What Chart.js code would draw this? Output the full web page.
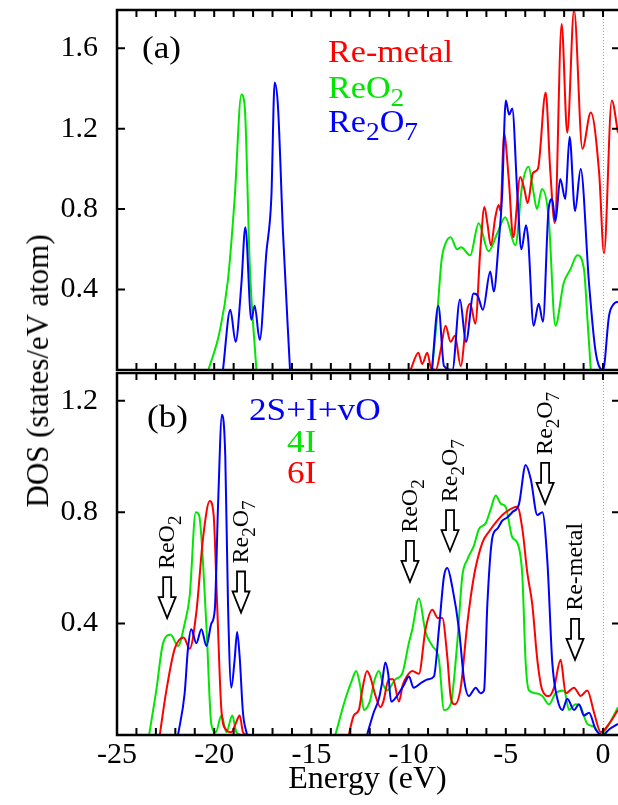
<!DOCTYPE html>
<html><head><meta charset="utf-8">
<script src="https://cdn.jsdelivr.net/npm/chart.js@4.4.0/dist/chart.umd.min.js"></script>
<style>
html,body{margin:0;padding:0;background:#fff;}
#wrap{position:relative;width:618px;height:805px;overflow:hidden;background:#fff;}
#ca{position:absolute;left:0;top:0;}
#cb{position:absolute;left:0;top:372px;}
#ytitle{position:absolute;left:38px;top:371px;transform:translate(-50%,-50%) rotate(-90deg);font:31px 'Liberation Serif','Times New Roman',serif;white-space:nowrap;color:#000;}
</style></head><body>
<div id="wrap">
<canvas id="ca" width="618" height="372"></canvas>
<canvas id="cb" width="618" height="433"></canvas>
<div id="ytitle">DOS (states/eV atom)</div>
</div>
<script>
// ---------- axis ranges & tick labels ----------
const ENERGY_MIN = -25, ENERGY_MAX = 0.77;
const xLabelValues = [-25, -20, -15, -10, -5, 0];
const yLabelValuesA = [0.4, 0.8, 1.2, 1.6];
const yLabelValuesB = [0.4, 0.8, 1.2];
const yMaxA = 1.79, yMaxB = 1.30;

// ---------- panel (a) series ----------
const namesA = ['Re-metal', 'ReO_2', 'Re_2O_7'];
const aRedE = [-9.9,-9.5,-9.3,-9.04,-8.85,-8.6,-8.35,-8.1,-7.84,-7.62,-7.32,-6.98,-6.83,-6.57,-6.31,-6.1,-5.95,-5.77,-5.54,-5.37,-5.27,-5.1,-4.85,-4.62,-4.26,-4.05,-3.88,-3.6,-3.35,-2.95,-2.72,-2.48,-2.13,-1.84,-1.49,-1.06,-0.63,-0.2,0.05,0.45,0.77];
const aRedV = [0,0.086,0.03,0.086,0.01,0,0.1,0.22,0.14,0.17,0.02,0.30,0.33,0.23,0.60,0.81,0.73,0.62,0.76,0.82,0.79,1.18,0.95,0.66,0.96,0.90,0.83,0.98,1.0,1.38,1.0,0.73,1.72,1.18,1.79,1.10,1.28,0.98,0.58,1.34,1.18];
const aGreenE = [-20.3,-19.72,-19.29,-18.95,-18.6,-18.43,-18.17,-17.83,null,-8.8,-8.55,-8.3,-8.1,-7.84,-7.5,-7.3,-6.83,-6.4,-5.89,-5.44,-5.03,-4.51,-4.17,-3.83,-3.57,-3.4,-3.14,-2.8,-2.45,-2.03,-1.68,-1.32,-0.98,-0.8,-0.63];
const aGreenV = [0,0.19,0.45,0.85,1.37,1.31,0.52,0,null,0,0.25,0.55,0.63,0.66,0.60,0.61,0.57,0.73,0.59,0.68,0.76,0.62,0.91,1.01,0.88,0.80,0.90,0.76,0.22,0.43,0.50,0.57,0.50,0.25,0];
const aBlueE = [-19.55,-19.17,-18.9,-18.6,-18.4,-18.09,-17.92,-17.66,-17.32,-17.06,-16.89,-16.72,-16.46,-16.1,null,-8.8,-8.47,-8.18,-7.75,-7.36,-7.05,-6.66,-6.45,-6.18,-5.8,-5.62,-5.37,-5.2,-5.0,-4.83,-4.67,-4.41,-4.2,-3.96,-3.85,-3.57,-3.31,-3.09,-2.8,-2.62,-2.45,-2.2,-1.94,-1.72,-1.44,-1.15,-0.72,-0.38,0,0.31,0.57,0.77];
const aBlueV = [0,0.30,0.14,0.43,0.71,0.25,0.32,0.15,0.58,0.86,1.43,1.31,0.68,0,null,0,0.32,0.02,0,0.35,0.14,0.38,0.37,0.30,0.49,0.39,0.63,0.85,1.34,1.27,1.30,0.88,0.60,0.72,0.65,0.22,0.33,0.24,0.80,0.85,0.74,0.95,0.85,1.16,0.79,1.0,0.43,0.09,0,0.27,0.33,0.34];

// ---------- panel (b) series ----------
const namesB = ['2S+I+vO', '4I', '6I'];
const bBlueE = [-21.86,-21.52,-21.35,-21.18,-20.92,-20.66,-20.4,-20.15,-19.97,-19.8,-19.6,-19.43,-19.29,-19.12,-18.95,-18.82,-18.69,-18.52,-18.31,null,-12.14,-11.8,-11.53,-11.36,-11.2,-11.05,-10.9,-10.6,-10.24,-9.98,-9.75,-9.3,-9.0,-8.7,-8.44,-8.18,-8.01,-7.75,-7.41,-7.15,-6.9,-6.55,-6.3,-6.12,-5.95,-5.69,-5.44,-5.18,-4.95,-4.67,-4.32,-3.98,-3.72,-3.38,-3.12,-2.86,-2.61,-2.35,-2.09,-1.84,-1.49,-1.24,-0.98,-0.72,-0.38,0,0.31,0.77];
const bBlueV = [0,0.15,0.31,0.38,0.33,0.38,0.32,0.40,0.45,0.83,1.15,1.00,0.47,0.17,0.27,0.37,0.28,0.08,0,null,0,0.08,0.13,0.19,0.26,0.22,0.12,0.14,0.18,0.21,0.17,0.19,0.20,0.21,0.38,0.57,0.60,0.53,0.38,0.20,0.14,0.17,0.15,0.16,0.47,0.71,0.74,0.77,0.78,0.80,0.83,0.97,0.92,0.79,0.80,0.62,0.26,0.13,0.09,0.13,0.09,0.11,0.07,0.08,0.02,0,0.02,0.04];
const bGreenE = [-23.35,-22.98,-22.63,-22.24,-21.86,-21.52,-21.26,-20.95,-20.78,-20.4,-20.15,-19.92,-19.63,-19.37,-19.07,-18.86,-18.6,null,-13.77,-13.25,-12.9,-12.7,-12.5,-12.3,-12.0,-11.74,-11.53,-11.3,-11.1,-10.68,-10.33,-9.99,-9.81,-9.47,-9.13,-8.78,-8.44,-8.18,-7.84,-7.5,-7.24,-6.98,-6.64,-6.38,-6.04,-5.78,-5.52,-5.25,-5.01,-4.67,-4.41,-4.15,-3.98,-3.81,-3.45,-3.12,-2.78,-2.44,-2.0,-1.75,-1.41,-1.15,-0.81,-0.46,-0.12,0.31,0.77];
const bGreenV = [0,0.16,0.33,0.36,0.32,0.40,0.50,0.80,0.79,0.39,0.04,0.01,0.07,0.01,0.07,0.01,0,null,0,0.13,0.20,0.23,0.18,0.09,0.12,0.20,0.23,0.18,0.16,0.20,0.22,0.33,0.38,0.49,0.37,0.32,0.27,0.09,0.11,0.33,0.57,0.63,0.68,0.74,0.76,0.81,0.86,0.83,0.82,0.71,0.69,0.57,0.26,0.16,0.15,0.14,0.11,0.15,0.16,0.09,0.11,0.10,0.04,0.03,0,0.04,0.10];
const bRedE = [-22.8,-22.46,-22.03,-21.57,-21.26,-20.92,-20.57,-20.23,-20.03,-19.85,-19.63,-19.4,-19.12,-18.9,-18.69,-18.52,-18.35,null,-13.08,-12.82,-12.56,-12.39,-12.14,-11.98,-11.7,-11.45,-11.3,-11.02,-10.8,-10.5,-10.3,-10.1,-9.81,-9.47,-9.13,-8.78,-8.5,-8.27,-8.01,-7.84,-7.62,-7.32,-6.98,-6.64,-6.21,-5.87,-5.44,-5.01,-4.41,-4.15,-3.89,-3.64,-3.38,-3.12,-2.78,-2.52,-2.18,-1.92,-1.49,-1.15,-0.81,-0.46,-0.12,0.31,0.77];
const bRedV = [0,0.16,0.31,0.35,0.31,0.44,0.71,0.84,0.79,0.47,0.09,0.02,0.01,0.04,0.07,0.01,0,null,0,0.07,0.09,0.16,0.23,0.21,0.14,0.10,0.12,0.20,0.20,0.12,0.18,0.21,0.23,0.22,0.38,0.45,0.42,0.42,0.28,0.14,0.11,0.17,0.40,0.57,0.69,0.73,0.77,0.80,0.82,0.74,0.58,0.47,0.27,0.16,0.14,0.17,0.27,0.15,0.17,0.14,0.16,0.08,0.01,0.04,0.09];

// ---------- annotations in panel (b): label, energy and DOS of arrow tip ----------
const annLabels = ['ReO_2', 'Re_2O_7', 'ReO_2', 'Re_2O_7', 'Re_2O_7', 'Re-metal'];
const annE = [-22.42, -18.62, -9.93, -7.87, -2.98, -1.44];
const annV = [0.42, 0.44, 0.55, 0.66, 0.83, 0.27];

// ---------- styling ----------
const FONT = "'Liberation Serif','Times New Roman',serif";
const RED = '#ff0000', GREEN = '#00e600', BLUE = '#0000ff';

function pts(E, V) {
  return E.map((e, i) => {
    if (e === null) return {x: (E[i-1] + E[i+1]) / 2, y: null};
    return {x: e, y: V[i]};
  });
}

function drawFormula(ctx, str, x, y, size, color, sx) {
  ctx.save();
  ctx.translate(x, y);
  ctx.scale(sx, 1);
  ctx.fillStyle = color;
  ctx.textBaseline = 'alphabetic';
  ctx.textAlign = 'left';
  let cx = 0;
  const parts = str.split(/(_\d)/).filter(p => p.length);
  for (const p of parts) {
    if (p[0] === '_') {
      ctx.font = Math.round(size * 0.8) + 'px ' + FONT;
      ctx.fillText(p.slice(1), cx, size * 0.27);
      cx += ctx.measureText(p.slice(1)).width;
    } else {
      ctx.font = size + 'px ' + FONT;
      ctx.fillText(p, cx, 0);
      cx += ctx.measureText(p).width;
    }
  }
  ctx.restore();
}

function framePlugin(yLabels) {
  return {
    id: 'frame',
    afterDatasetsDraw(chart) {
      const {ctx, chartArea: a, scales: {x, y}} = chart;
      ctx.save();
      const x0 = x.getPixelForValue(0);
      ctx.strokeStyle = '#a0a0a0'; ctx.lineWidth = 1; ctx.setLineDash([1, 2]);
      ctx.beginPath(); ctx.moveTo(Math.round(x0) + 0.5, a.top); ctx.lineTo(Math.round(x0) + 0.5, a.bottom); ctx.stroke();
      ctx.setLineDash([]);
      ctx.strokeStyle = '#000'; ctx.lineWidth = 2;
      ctx.beginPath();
      for (let e = ENERGY_MIN; e <= 0; e++) {
        const px = x.getPixelForValue(e);
        ctx.moveTo(px, a.top); ctx.lineTo(px, a.top + 7);
        ctx.moveTo(px, a.bottom); ctx.lineTo(px, a.bottom - 7);
      }
      yLabels.forEach(v => {
        const py = y.getPixelForValue(v);
        ctx.moveTo(a.left, py); ctx.lineTo(a.left + 8, py);
        ctx.moveTo(a.right, py); ctx.lineTo(a.right - 6, py);
      });
      ctx.stroke();
      ctx.lineWidth = 2.5;
      ctx.beginPath();
      ctx.moveTo(a.right + 2, a.top); ctx.lineTo(a.left, a.top); ctx.lineTo(a.left, a.bottom); ctx.lineTo(a.right + 2, a.bottom);
      ctx.stroke();
      ctx.restore();
    }
  };
}

const legendA = {
  id: 'legA',
  afterDraw(chart) {
    const ctx = chart.ctx;
    drawFormula(ctx, '(a)', 142, 58, 32, '#000', 1.1);
    drawFormula(ctx, namesA[0], 328, 62, 31, RED, 1.1);
    drawFormula(ctx, namesA[1], 328, 98, 31, GREEN, 1.1);
    drawFormula(ctx, namesA[2], 328, 132, 31, BLUE, 1.1);
  }
};

const legendB = {
  id: 'legB',
  afterDraw(chart) {
    const ctx = chart.ctx;
    const {scales: {x, y}} = chart;
    drawFormula(ctx, '(b)', 147, 55, 32, '#000', 1.1);
    drawFormula(ctx, namesB[0], 249, 48, 32, BLUE, 1.1);
    drawFormula(ctx, namesB[1], 287, 80, 32, GREEN, 1.1);
    drawFormula(ctx, namesB[2], 287, 111, 32, RED, 1.1);
    annLabels.forEach((lab, i) => {
      const px = x.getPixelForValue(annE[i]);
      const tip = y.getPixelForValue(annV[i]);
      const top = tip - 41;
      ctx.save();
      ctx.beginPath();
      ctx.moveTo(px - 4, top); ctx.lineTo(px + 4, top); ctx.lineTo(px + 4, top + 20);
      ctx.lineTo(px + 8.5, top + 20); ctx.lineTo(px, tip); ctx.lineTo(px - 8.5, top + 20);
      ctx.lineTo(px - 4, top + 20); ctx.closePath();
      ctx.fillStyle = '#fff'; ctx.fill();
      ctx.strokeStyle = '#000'; ctx.lineWidth = 1.8; ctx.lineJoin = 'miter'; ctx.stroke();
      ctx.translate(px, top - 8);
      ctx.rotate(-Math.PI / 2);
      drawFormula(ctx, lab, 0, 24 * 0.3, 24, '#000', 1);
      ctx.restore();
    });
  }
};

function makeChart(id, datasets, yMax, yLabels, showX, pad, extra) {
  return new Chart(document.getElementById(id), {
    type: 'line',
    data: {datasets},
    options: {
      responsive: false, animation: false, devicePixelRatio: 1,
      layout: {padding: pad},
      elements: {point: {radius: 0, hitRadius: 0}, line: {borderWidth: 2, cubicInterpolationMode: 'monotone'}},
      plugins: {legend: {display: false}, tooltip: {enabled: false}},
      events: [],
      scales: {
        x: {
          type: 'linear', min: ENERGY_MIN, max: ENERGY_MAX, display: showX,
          grid: {display: false, drawTicks: false}, border: {display: false},
          ticks: {stepSize: 1, autoSkip: false, maxRotation: 0, minRotation: 0, includeBounds: false, padding: 2,
                  color: '#000', font: {family: FONT, size: 30},
                  callback: v => xLabelValues.includes(v) ? String(v) : ''},
          title: {display: showX, text: 'Energy (eV)', color: '#000', font: {family: FONT, size: 32}, padding: {top: 0, bottom: 6}},
          afterFit: s => { s.paddingLeft = 0; s.paddingRight = 0; if (showX) s.height = 70; }
        },
        y: {
          type: 'linear', min: 0, max: yMax,
          grid: {display: false, drawTicks: false}, border: {display: false},
          ticks: {stepSize: 0.4, includeBounds: false, padding: 19, color: '#000', font: {family: FONT, size: 30},
                  callback: v => yLabels.some(l => Math.abs(l - v) < 1e-6) ? v.toFixed(1) : ''},
          afterFit: s => { s.width = 117; s.paddingTop = 0; s.paddingBottom = 0; }
        }
      }
    },
    plugins: [framePlugin(yLabels), extra]
  });
}

function ds(label, E, V, color) {
  return {label, data: pts(E, V), borderColor: color, backgroundColor: color, borderWidth: 2, spanGaps: false, fill: false};
}

makeChart('ca', [
  ds('Re2O7', aBlueE, aBlueV, BLUE),
  ds('Re-metal', aRedE, aRedV, RED),
  ds('ReO2', aGreenE, aGreenV, GREEN)
], yMaxA, yLabelValuesA, false, {top: 10, bottom: 2, left: 0, right: 0}, legendA);

makeChart('cb', [
  ds('2S+I+vO', bBlueE, bBlueV, BLUE),
  ds('6I', bRedE, bRedV, RED),
  ds('4I', bGreenE, bGreenV, GREEN)
], yMaxB, yLabelValuesB, true, {top: 1, bottom: 0, left: 0, right: 0}, legendB);
</script>
</body></html>
